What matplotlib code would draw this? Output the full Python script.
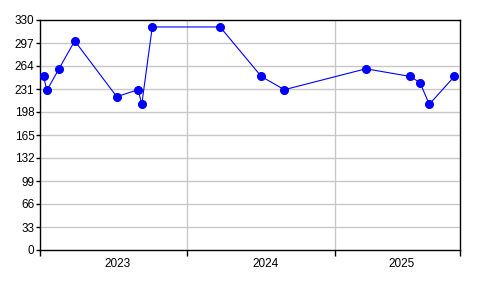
import matplotlib
matplotlib.use("Agg")
import matplotlib.pyplot as plt
import matplotlib.dates as mdates
import matplotlib.transforms as mtransforms
import numpy as np
from datetime import date

# data
dates = ["2023-01-10", "2023-01-18", "2023-02-17", "2023-03-28", "2023-07-10",
         "2023-09-01", "2023-09-10", "2023-10-06", "2024-03-22", "2024-07-02",
         "2024-08-28", "2025-03-18", "2025-07-06", "2025-07-30", "2025-08-22",
         "2025-10-23"]
values = [249, 229, 260, 300, 220, 230, 209, 320, 320, 249, 230, 260, 249, 240, 209, 249]
years = [2023, 2024, 2025]
x_start = date(2023, 1, 1)
x_end = date(2025, 11, 6)
y_ticks = list(range(0, 331, 33))

plt.rcParams['font.family'] = ['Liberation Sans', 'DejaVu Sans']

fig = plt.figure(figsize=(4.96, 2.96), dpi=100)
ax = fig.add_axes([40/496, 46/296, 420/496, 230/296])

x = [np.datetime64(d) for d in dates]
ax.plot(x, values, color="#0000ff", lw=0.8, marker="o", ms=5.5, mec="#0000ff", mfc="#0000ff", zorder=3)

ax.set_xlim(x_start, x_end)
ax.set_ylim(0, 330)
ax.set_yticks(y_ticks)

# major ticks at year boundaries, labels centred in the visible part of each year
lo = mdates.date2num(x_start)
hi = mdates.date2num(x_end)
bounds = [mdates.date2num(date(y, 1, 1)) for y in years[1:]]
ax.set_xticks([lo] + bounds + [hi])
ax.set_xticklabels([])
mids = []
for y in years:
    a = max(mdates.date2num(date(y, 1, 1)), lo)
    b = min(mdates.date2num(date(y + 1, 1, 1)), hi)
    mids.append((a + b) / 2)
ax.set_xticks(mids, minor=True)
ax.set_xticklabels([str(y) for y in years], minor=True)
ax.tick_params(axis="x", which="minor", length=0, pad=6, labelsize=8.5)
ax.tick_params(axis="x", which="major", length=4, width=1, direction="out")
ax.tick_params(axis="y", length=3, width=1, pad=1, labelsize=8.5)

# year labels sit a few pixels right of the interval centre
shift = mtransforms.ScaledTranslation(4/100, 0, fig.dpi_scale_trans)
for lab in ax.get_xticklabels(minor=True):
    lab.set_transform(lab.get_transform() + shift)

for b in bounds:
    ax.axvline(b, color="#c8c8c8", lw=1, zorder=1)
for t in y_ticks[1:-1]:
    ax.axhline(t, color="#c8c8c8", lw=1, zorder=1)

for s in ax.spines.values():
    s.set_color("black")
    s.set_linewidth(1)

fig.savefig("out.png", dpi=100)
